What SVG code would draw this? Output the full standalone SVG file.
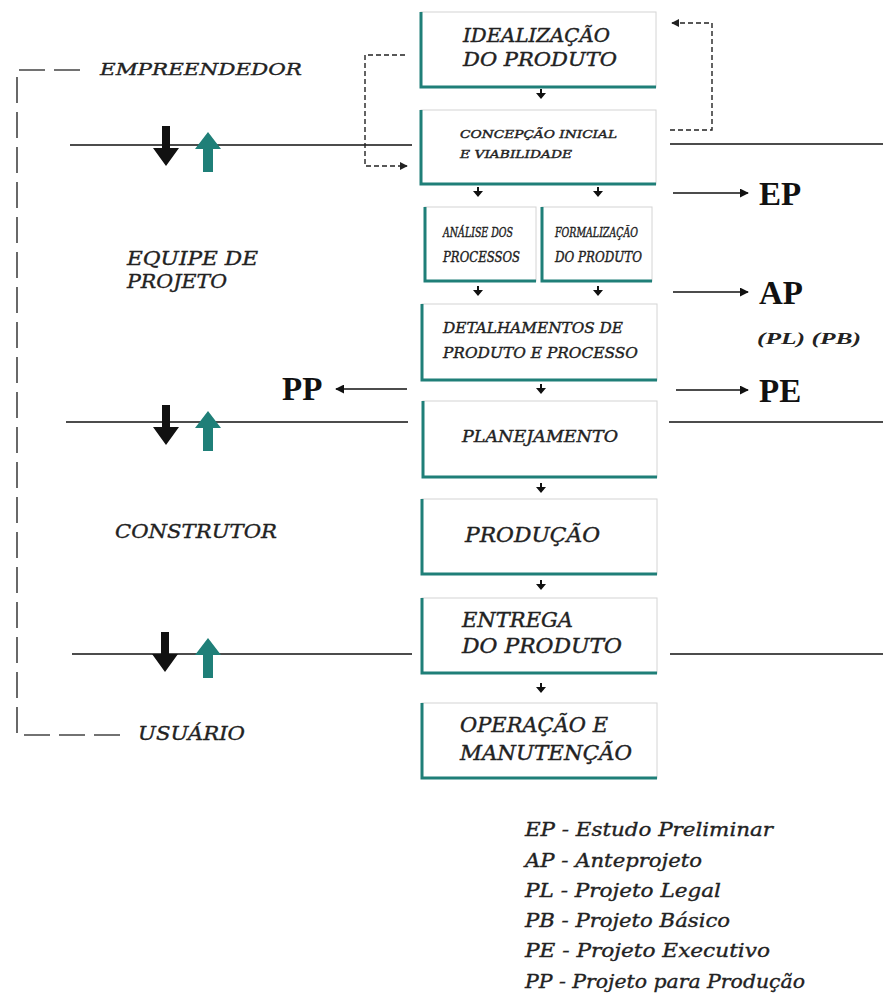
<svg xmlns="http://www.w3.org/2000/svg" xmlns:xlink="http://www.w3.org/1999/xlink" width="883" height="993" viewBox="0 0 883 993">
<style>
.box{fill:#fff;stroke:#d4d4d4;stroke-width:1}
.edge{fill:none;stroke:#1f7f78;stroke-width:3}
.t{font-family:"DejaVu Serif","Liberation Serif",serif;font-style:italic;fill:#222;stroke:#222;stroke-width:0.4}
.lbl{font-family:"DejaVu Serif","Liberation Serif",serif;font-style:italic;fill:#222;stroke:#222;stroke-width:0.35}
.big{font-family:"Liberation Serif","Times New Roman",serif;font-weight:bold;font-size:33px;fill:#111}
.line{stroke:#111;stroke-width:1.6;fill:none}
.out{stroke:#111;stroke-width:1.6;fill:none;marker-end:url(#ah)}
.dash{stroke:#222;stroke-width:1.4;fill:none;stroke-dasharray:5 3}
.bracket{stroke:#444;stroke-width:1.6;fill:none;stroke-dasharray:26 9}
</style>
<defs>
<marker id="ah" viewBox="0 0 10 10" refX="9" refY="5" markerWidth="9" markerHeight="9" markerUnits="userSpaceOnUse" orient="auto"><path d="M0,0 L10,5 L0,10 z" fill="#111"/></marker>
<marker id="dh" viewBox="0 0 10 10" refX="9" refY="5" markerWidth="8" markerHeight="8" markerUnits="userSpaceOnUse" orient="auto"><path d="M0,0 L10,5 L0,10 z" fill="#222"/></marker>
<path id="da" d="M-1,0 h2 v4 h4 l-5,6 l-5,-6 h4 z" fill="#111"/>
<path id="down" d="M-4,0 h8 v22 h9 l-13,18 l-13,-18 h9 z" fill="#111"/>
<path id="up" d="M0,0 l13,17 h-8 v23 h-10 v-23 h-8 z" fill="#1f7f78"/>
</defs>
<rect width="883" height="993" fill="#fff"/>

<g id="connectors">
  <line class="line" x1="70" y1="145" x2="412" y2="145"/>
  <line class="line" x1="670" y1="144" x2="883" y2="144"/>
  <line class="line" x1="66" y1="422" x2="408" y2="422"/>
  <line class="line" x1="669" y1="422" x2="883" y2="422"/>
  <line class="line" x1="72" y1="654" x2="412" y2="654"/>
  <line class="line" x1="670" y1="654" x2="883" y2="654"/>
  <use xlink:href="#down" x="166" y="126"/>
  <use xlink:href="#up" x="208" y="132"/>
  <use xlink:href="#down" x="166" y="405"/>
  <use xlink:href="#up" x="208" y="411"/>
  <use xlink:href="#down" x="165" y="632"/>
  <use xlink:href="#up" x="208" y="638"/>
  <use xlink:href="#da" x="541" y="89"/>
  <use xlink:href="#da" x="478" y="187"/>
  <use xlink:href="#da" x="598" y="187"/>
  <use xlink:href="#da" x="478" y="286"/>
  <use xlink:href="#da" x="598" y="286"/>
  <use xlink:href="#da" x="541" y="384"/>
  <use xlink:href="#da" x="541" y="483"/>
  <use xlink:href="#da" x="541" y="580"/>
  <use xlink:href="#da" x="541" y="683"/>
  <path class="dash" d="M405,55 H365 V166 H407" marker-end="url(#dh)"/>
  <path class="dash" d="M670,130 H712 V23 H672" marker-end="url(#dh)"/>
  <line class="out" x1="673" y1="193" x2="748" y2="193"/>
  <line class="out" x1="673" y1="292" x2="748" y2="292"/>
  <line class="out" x1="676" y1="390" x2="748" y2="390"/>
  <line class="out" x1="407" y1="389" x2="336" y2="389"/>
  <path class="bracket" d="M80,70 H17 V735 H120"/>
</g>

<g id="n1"><rect class="box" x="421" y="12" width="235" height="75"/><path class="edge" d="M421,12 V87 H656"/>
<text class="t" font-size="19" x="463" y="42" textLength="147" lengthAdjust="spacingAndGlyphs">IDEALIZAÇÃO</text>
<text class="t" font-size="19" x="463" y="66" textLength="154" lengthAdjust="spacingAndGlyphs">DO PRODUTO</text></g>

<g id="n2"><rect class="box" x="421" y="110" width="235" height="74"/><path class="edge" d="M421,110 V184 H656"/>
<text class="t" font-size="11" x="460" y="138" textLength="157" lengthAdjust="spacingAndGlyphs">CONCEPÇÃO INICIAL</text>
<text class="t" font-size="11" x="460" y="158" textLength="112" lengthAdjust="spacingAndGlyphs">E VIABILIDADE</text></g>

<g id="n3a"><rect class="box" x="425" y="207" width="111" height="74"/><path class="edge" d="M425,207 V281 H536"/>
<text class="t" font-size="12" x="443" y="237" textLength="70" lengthAdjust="spacingAndGlyphs">ANÁLISE DOS</text>
<text class="t" font-size="14" x="443" y="262" textLength="77" lengthAdjust="spacingAndGlyphs">PROCESSOS</text></g>

<g id="n3b"><rect class="box" x="542" y="207" width="110" height="74"/><path class="edge" d="M542,207 V281 H652"/>
<text class="t" font-size="12" x="555" y="237" textLength="83" lengthAdjust="spacingAndGlyphs">FORMALIZAÇÃO</text>
<text class="t" font-size="14" x="555" y="262" textLength="87" lengthAdjust="spacingAndGlyphs">DO PRODUTO</text></g>

<g id="n4"><rect class="box" x="422" y="304" width="235" height="76"/><path class="edge" d="M422,304 V380 H657"/>
<text class="t" font-size="15" x="443" y="333" textLength="180" lengthAdjust="spacingAndGlyphs">DETALHAMENTOS DE</text>
<text class="t" font-size="15" x="443" y="358" textLength="195" lengthAdjust="spacingAndGlyphs">PRODUTO E PROCESSO</text></g>

<g id="n5"><rect class="box" x="423" y="401" width="234" height="76"/><path class="edge" d="M423,401 V477 H657"/>
<text class="t" font-size="16" x="462" y="442" textLength="156" lengthAdjust="spacingAndGlyphs">PLANEJAMENTO</text></g>

<g id="n6"><rect class="box" x="422" y="499" width="235" height="75"/><path class="edge" d="M422,499 V574 H657"/>
<text class="t" font-size="20" x="465" y="542" textLength="135" lengthAdjust="spacingAndGlyphs">PRODUÇÃO</text></g>

<g id="n7"><rect class="box" x="422" y="598" width="235" height="75"/><path class="edge" d="M422,598 V673 H657"/>
<text class="t" font-size="20" x="462" y="627" textLength="111" lengthAdjust="spacingAndGlyphs">ENTREGA</text>
<text class="t" font-size="20" x="462" y="653" textLength="160" lengthAdjust="spacingAndGlyphs">DO PRODUTO</text></g>

<g id="n8"><rect class="box" x="422" y="703" width="235" height="75"/><path class="edge" d="M422,703 V778 H657"/>
<text class="t" font-size="20" x="460" y="732" textLength="148" lengthAdjust="spacingAndGlyphs">OPERAÇÃO E</text>
<text class="t" font-size="20" x="460" y="760" textLength="172" lengthAdjust="spacingAndGlyphs">MANUTENÇÃO</text></g>

<g id="actors">
<text class="lbl" font-size="17" x="100" y="75" textLength="202" lengthAdjust="spacingAndGlyphs">EMPREENDEDOR</text>
<text class="lbl" font-size="19" x="127" y="265" textLength="131" lengthAdjust="spacingAndGlyphs">EQUIPE DE</text>
<text class="lbl" font-size="19" x="127" y="288" textLength="100" lengthAdjust="spacingAndGlyphs">PROJETO</text>
<text class="lbl" font-size="19" x="115" y="538" textLength="162" lengthAdjust="spacingAndGlyphs">CONSTRUTOR</text>
<text class="lbl" font-size="19" x="138" y="740" textLength="107" lengthAdjust="spacingAndGlyphs">USUÁRIO</text>
</g>

<g id="outputs">
<text class="big" x="759" y="205">EP</text>
<text class="big" x="759" y="304">AP</text>
<text font-family="Liberation Serif, serif" font-weight="bold" font-style="italic" font-size="17" fill="#222" x="757" y="344" textLength="104" lengthAdjust="spacingAndGlyphs">(PL)  (PB)</text>
<text class="big" x="759" y="402">PE</text>
<text class="big" x="282" y="400">PP</text>
</g>

<g id="legend">
<text class="lbl" font-size="19" x="525" y="836" textLength="248" lengthAdjust="spacingAndGlyphs">EP - Estudo Preliminar</text>
<text class="lbl" font-size="19" x="525" y="867" textLength="177" lengthAdjust="spacingAndGlyphs">AP - Anteprojeto</text>
<text class="lbl" font-size="19" x="525" y="897" textLength="196" lengthAdjust="spacingAndGlyphs">PL - Projeto Legal</text>
<text class="lbl" font-size="19" x="525" y="927" textLength="205" lengthAdjust="spacingAndGlyphs">PB - Projeto Básico</text>
<text class="lbl" font-size="19" x="525" y="957" textLength="245" lengthAdjust="spacingAndGlyphs">PE - Projeto Executivo</text>
<text class="lbl" font-size="19" x="525" y="988" textLength="280" lengthAdjust="spacingAndGlyphs">PP - Projeto para Produção</text>
</g>
</svg>
